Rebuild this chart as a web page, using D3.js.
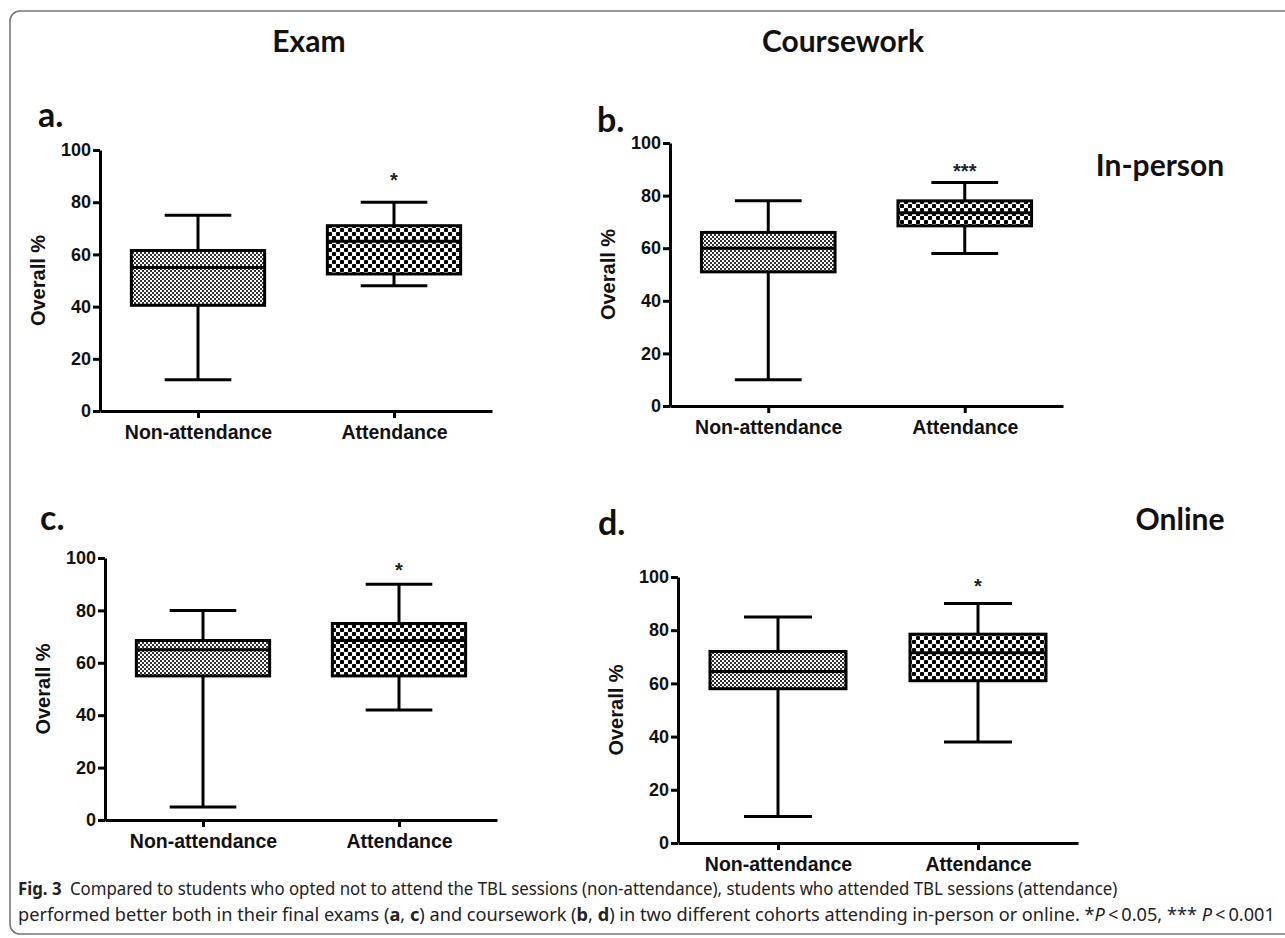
<!DOCTYPE html>
<html>
<head>
<meta charset="utf-8">
<script src="https://cdn.jsdelivr.net/npm/d3@7"></script>
<style>
  body { margin: 0; background: #fff; }
  svg { display: block; }
  .tick text { font-family: "Liberation Sans", Arial, sans-serif; font-weight: bold; }
</style>
</head>
<body>
<div id="chart"></div>
<script>
// categories and tick labels
var groups = ["Non-attendance", "Attendance"];
var yTicks = [0, 20, 40, 60, 80, 100];

// five number summaries [min, q1, median, q3, max] per group
var examInPerson = [[12, 40.5, 55, 61.5, 75], [48, 52.5, 65, 71, 80]];
var courseInPerson = [[10, 51, 60, 66, 78], [58, 68.5, 73.5, 78, 85]];
var examOnline = [[5, 55, 65, 68.5, 80], [42, 55, 68.5, 75, 90]];
var courseOnline = [[10, 58, 64.5, 72, 85], [38, 61, 71.5, 78.5, 90]];

// significance marks and where they sit (y units)
var stars = ["*", "***", "*", "*"];
var starValues = [90, 91, 97, 98];
var panelLetters = ["a.", "b.", "c.", "d."];

var svg = d3.select("#chart")
    .append("svg")
    .attr("width", 1285)
    .attr("height", 938);

// frame
svg.append("rect")
   .attr("x", 10).attr("y", 11)
   .attr("width", 1300).attr("height", 923)
   .attr("rx", 10)
   .style("fill", "none")
   .style("stroke", "#777")
   .style("stroke-width", 1.6);

var defs = svg.append("defs");

var fine = defs.append("pattern")
    .attr("id", "fine")
    .attr("patternUnits", "userSpaceOnUse")
    .attr("width", 4).attr("height", 4);
fine.append("rect").attr("width", 4).attr("height", 4).style("fill", "#fff");
fine.append("rect").attr("width", 2).attr("height", 2).style("fill", "#333");
fine.append("rect").attr("x", 2).attr("y", 2).attr("width", 2).attr("height", 2).style("fill", "#333");

var coarse = defs.append("pattern")
    .attr("id", "coarse")
    .attr("patternUnits", "userSpaceOnUse")
    .attr("width", 8).attr("height", 8);
coarse.append("rect").attr("width", 8).attr("height", 8).style("fill", "#fff");
coarse.append("rect").attr("width", 4).attr("height", 4).attr("rx", 0.8).style("fill", "#000");
coarse.append("rect").attr("x", 4).attr("y", 4).attr("width", 4).attr("height", 4).attr("rx", 0.8).style("fill", "#000");

var fills = ["url(#fine)", "url(#coarse)"];

// panel frames in page pixels
var panels = [
  {data: examInPerson,   x0: 100, x1: 492,  y0: 411, y1: 150, lx: 38,  ly: 127},
  {data: courseInPerson, x0: 670, x1: 1063, y0: 406, y1: 143, lx: 597, ly: 132},
  {data: examOnline,     x0: 105, x1: 497,  y0: 820, y1: 558, lx: 40,  ly: 530},
  {data: courseOnline,   x0: 678, x1: 1078, y0: 843, y1: 577, lx: 598, ly: 535}
];

function drawPanel(p, i) {
    var x = d3.scalePoint().domain(groups).range([p.x0, p.x1]).padding(0.5);
    var y = d3.scaleLinear().domain([0, 100]).range([p.y0, p.y1]);
    var boxW = (p.x1 - p.x0) * 0.34;
    var capW = boxW / 2;

    var g = svg.append("g").attr("class", "panel");

    var yAxis = g.append("g")
       .attr("transform", "translate(" + p.x0 + ",0)")
       .call(d3.axisLeft(y).tickValues(yTicks).tickSize(7).tickSizeOuter(0).tickPadding(2));
    var xAxis = g.append("g")
       .attr("transform", "translate(0," + p.y0 + ")")
       .call(d3.axisBottom(x).tickSize(7).tickSizeOuter(0).tickPadding(7));

    [yAxis, xAxis].forEach(function(a) {
        a.select(".domain").style("stroke", "#000").style("stroke-width", 3);
        a.selectAll(".tick line").style("stroke", "#000").style("stroke-width", 3);
        a.selectAll(".tick text").style("fill", "#111");
    });
    yAxis.selectAll(".tick text").style("font-size", "18px");
    xAxis.selectAll(".tick text").style("font-size", "19.5px");

    var box = g.selectAll("g.box")
       .data(p.data)
       .enter()
       .append("g")
       .attr("class", "box");

    // whisker stem
    box.append("line")
       .attr("x1", function(d, j) { return x(groups[j]); })
       .attr("x2", function(d, j) { return x(groups[j]); })
       .attr("y1", function(d) { return y(d[0]); })
       .attr("y2", function(d) { return y(d[4]); })
       .style("stroke", "#000").style("stroke-width", 3);

    // caps
    [0, 4].forEach(function(k) {
        box.append("line")
           .attr("x1", function(d, j) { return x(groups[j]) - capW / 2; })
           .attr("x2", function(d, j) { return x(groups[j]) + capW / 2; })
           .attr("y1", function(d) { return y(d[k]); })
           .attr("y2", function(d) { return y(d[k]); })
           .style("stroke", "#000").style("stroke-width", 3);
    });

    box.append("rect")
       .attr("x", function(d, j) { return x(groups[j]) - boxW / 2; })
       .attr("y", function(d) { return y(d[3]); })
       .attr("width", boxW)
       .attr("height", function(d) { return y(d[1]) - y(d[3]); })
       .style("fill", function(d, j) { return fills[j]; })
       .style("stroke", "#000").style("stroke-width", 3);

    box.append("line")
       .attr("x1", function(d, j) { return x(groups[j]) - boxW / 2; })
       .attr("x2", function(d, j) { return x(groups[j]) + boxW / 2; })
       .attr("y1", function(d) { return y(d[2]); })
       .attr("y2", function(d) { return y(d[2]); })
       .style("stroke", "#000").style("stroke-width", 3);

    g.append("text")
     .attr("x", x(groups[1]))
     .attr("y", y(starValues[i]) + 11)
     .style("text-anchor", "middle")
     .style("font-family", "Liberation Sans, Arial, sans-serif")
     .style("font-weight", "bold")
     .style("font-size", "20px")
     .style("fill", "#222")
     .text(stars[i]);

    g.append("text")
     .attr("transform", "rotate(-90)")
     .attr("x", -(p.y0 + p.y1) / 2)
     .attr("y", p.x0 - 55)
     .style("text-anchor", "middle")
     .style("font-family", "Liberation Sans, Arial, sans-serif")
     .style("font-weight", "bold")
     .style("font-size", "20px")
     .style("fill", "#111")
     .text("Overall %");

    g.append("text")
     .attr("x", p.lx)
     .attr("y", p.ly)
     .style("font-family", "Lato, sans-serif")
     .style("font-weight", "bold")
     .style("font-size", "34px")
     .style("fill", "#111")
     .text(panelLetters[i]);
}

panels.forEach(drawPanel);

// column and row titles
var titles = [
  {t: "Exam", x: 309, y: 52},
  {t: "Coursework", x: 843, y: 52},
  {t: "In-person", x: 1160, y: 176},
  {t: "Online", x: 1180, y: 530}
];
svg.selectAll("text.title")
   .data(titles)
   .enter()
   .append("text")
   .attr("class", "title")
   .attr("x", function(d) { return d.x; })
   .attr("y", function(d) { return d.y; })
   .style("text-anchor", "middle")
   .style("font-family", "Lato, sans-serif")
   .style("font-weight", "bold")
   .style("font-size", "30px")
   .style("fill", "#111")
   .text(function(d) { return d.t; });

// caption, squeezed horizontally like the condensed journal font
function captionLine(parts, yPos, width) {
    var t = svg.append("text")
       .style("font-family", "Noto Sans, sans-serif")
       .style("font-size", "18px")
       .style("fill", "#222");
    parts.forEach(function(p) {
        var s = t.append("tspan").text(p[0]);
        if (p[1] == "b") s.style("font-weight", "bold");
        if (p[1] == "i") s.style("font-style", "italic");
    });
    var natural = t.node().getComputedTextLength();
    t.attr("transform", "translate(18," + yPos + ") scale(" + (width / natural) + ",1)");
}

captionLine([
    ["Fig. 3", "b"],
    ["\u2002Compared to students who opted not to attend the TBL sessions (non-attendance), students who attended TBL sessions (attendance)"]
], 895, 1100);

captionLine([
    ["performed better both in their final exams ("], ["a", "b"], [", "], ["c", "b"],
    [") and coursework ("], ["b", "b"], [", "], ["d", "b"],
    [") in two different cohorts attending in-person or online. *"], ["P", "i"],
    ["\u2009<\u20090.05, *** "], ["P", "i"], ["\u2009<\u20090.001"]
], 921, 1258);
</script>
</body>
</html>
